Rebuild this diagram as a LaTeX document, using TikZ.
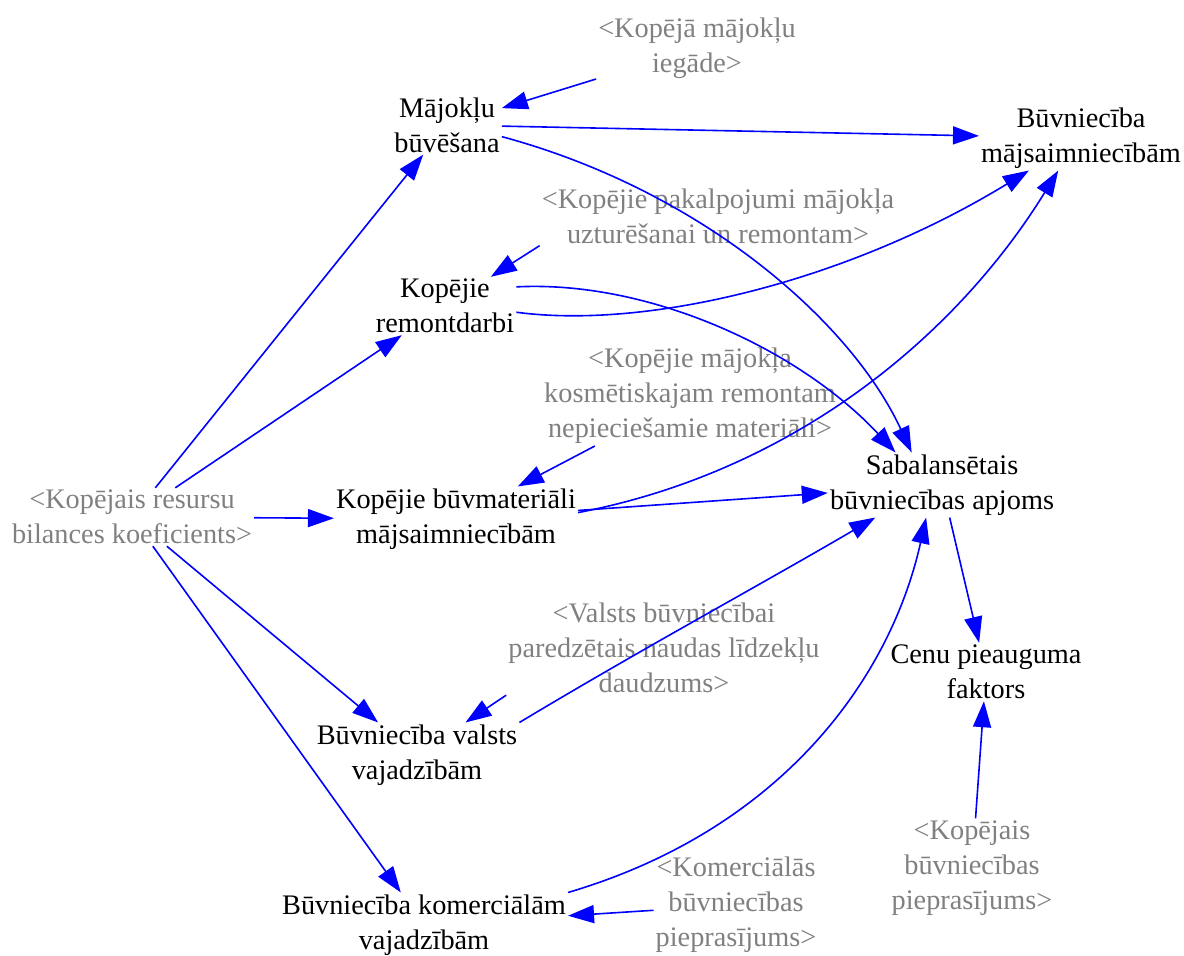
\documentclass[tikz,border=0pt]{standalone}
\usepackage{fontspec}
\setmainfont{Liberation Serif}
\usetikzlibrary{arrows.meta}
\definecolor{shgray}{RGB}{128,128,128}
\definecolor{arblue}{RGB}{0,0,255}
\begin{document}
\begin{tikzpicture}[x=1pt,y=-1pt,
  mainvar/.style={align=center,inner sep=2pt,text=black,font=\fontsize{28.3}{35}\selectfont},
  shadowvar/.style={align=center,inner sep=2pt,text=shgray,font=\fontsize{28.3}{35}\selectfont},
  ar/.style={draw=arblue,line width=1.6pt,-{Triangle[length=26pt,width=18pt]}}]
\useasboundingbox (0,0) rectangle (1184,956);
% nodes
\node[mainvar] (maj) at (447,125) {Mājokļu\\būvēšana};
\node[shadowvar] (kmi) at (697,48) {<Kopējā mājokļu\\iegāde>};
\node[mainvar] (bm) at (1081,138) {Būvniecība\\mājsaimniecībām};
\node[shadowvar] (pak) at (718,216) {<Kopējie pakalpojumi mājokļa\\uzturēšanai un remontam>};
\node[mainvar] (rem) at (445,306) {Kopējie\\remontdarbi};
\node[shadowvar] (kos) at (690,396) {<Kopējie mājokļa\\kosmētiskajam remontam\\nepieciešamie materiāli>};
\node[shadowvar] (res) at (132,517) {<Kopējais resursu\\bilances koeficients>};
\node[mainvar] (mat) at (456,519) {Kopējie būvmateriāli\\mājsaimniecībām};
\node[mainvar] (sab) at (942,485) {Sabalansētais\\būvniecības apjoms};
\node[shadowvar] (val) at (664,648) {<Valsts būvniecībai\\paredzētais naudas līdzekļu\\daudzums>};
\node[mainvar] (cenu) at (986,672) {Cenu pieauguma\\faktors};
\node[mainvar] (bv) at (417,755) {Būvniecība valsts\\vajadzībām};
\node[shadowvar] (kbp) at (972,868) {<Kopējais\\būvniecības\\pieprasījums>};
\node[shadowvar] (kom) at (736,905) {<Komerciālās\\būvniecības\\pieprasījums>};
\node[mainvar] (bk) at (424,925) {Būvniecība komerciālām\\vajadzībām};
% straight connectors
\draw[ar] (kmi) -- (maj);
\draw[ar] (maj) -- (bm);
\draw[ar] (res) -- (maj);
\draw[ar] (res) -- (rem);
\draw[ar] (res) -- (mat);
\draw[ar] (res) -- (bv);
\draw[ar] (res) -- (bk);
\draw[ar] (pak.south west) -- (rem);
\draw[ar] (kos) -- (mat);
\draw[ar] (mat) -- (sab);
\draw[ar] (val.south west) -- (bv);
\draw[ar] (kom) -- (bk);
\draw[ar] (sab) -- (cenu);
\draw[ar] (kbp) -- (cenu);
% curved connectors
\draw[ar] (maj.-12) .. controls (700,190) and (850,320) .. (sab.133);
\draw[ar] (rem.15) .. controls (650,280) and (800,350) .. (sab.145);
\draw[ar] (rem.-5) .. controls (650,330) and (850,280) .. (bm.212);
\draw[ar] (mat.3) .. controls (800,470) and (960,330) .. (bm.235);
\draw[ar] (bv.north east) .. controls (640,650) and (760,585) .. (sab.206);
\draw[ar] (bk.north east) .. controls (780,830) and (890,680) .. (sab.244);
\end{tikzpicture}
\end{document}
